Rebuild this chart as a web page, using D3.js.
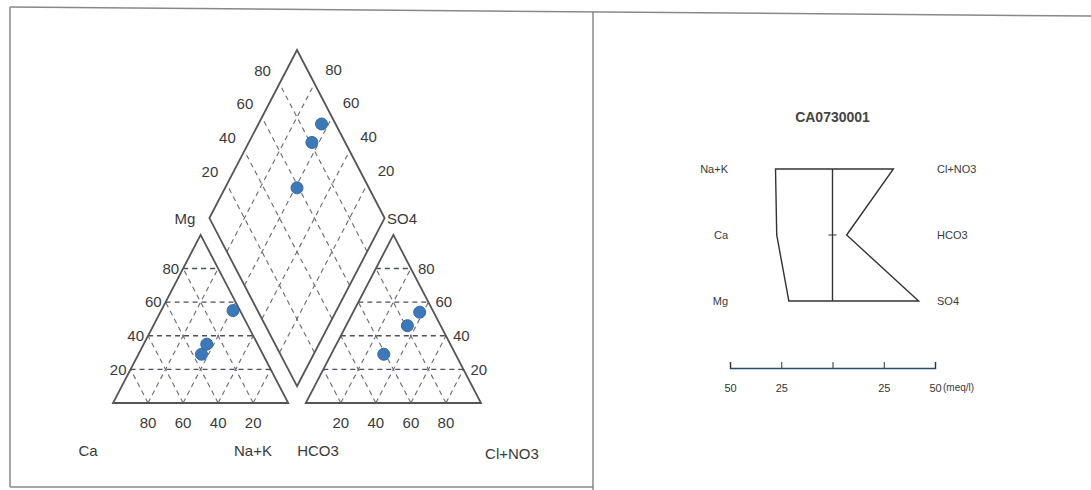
<!DOCTYPE html>
<meta charset="utf-8">
<style>
  body { margin: 0; background: #fff; }
  svg text { font-family: "Liberation Sans", Arial, sans-serif; fill: #3a3a3a; }
  .edge { fill: none; stroke: #555; stroke-width: 1.8; }
  .grid { stroke: #6a6a6a; stroke-width: 1.1; stroke-dasharray: 5,4; }
  .grid.hz { stroke: #4a4f66; stroke-width: 1.4; }
  .dot { fill: #3d78b8; stroke: #2f6aa8; stroke-width: 1; }
  .frame { stroke: #888; stroke-width: 1.5; }
</style>
<body>
<svg width="1091" height="490"></svg>
<script src="https://d3js.org/d3.v7.min.js"></script>
<script>
  // piper samples (percent of meq)
  var ca = [35, 29, 4];
  var mg = [29, 35, 55];
  var naK = [36, 36, 41];
  var hco3 = [8, 19, 41];
  var so4 = [54, 46, 29];
  var clNo3 = [38, 35, 30];
  var ticks = [20, 40, 60, 80];

  // stiff diagram for one sample (meq/l)
  var stiffTitle = "CA0730001";
  var cationNames = ["Na+K", "Ca", "Mg"];
  var anionNames = ["Cl+NO3", "HCO3", "SO4"];
  var cationVals = [27.8, 27.2, 21.3];
  var anionVals = [29.7, 6.9, 42];
  var stiffTicks = [-50, -25, 0, 25, 50];

  var svg = d3.select("svg");

  // panel frames
  svg.append("line").attr("class", "frame").attr("x1", 10).attr("y1", 7).attr("x2", 1091).attr("y2", 16);
  svg.append("line").attr("class", "frame").attr("x1", 10).attr("y1", 7).attr("x2", 10).attr("y2", 487);
  svg.append("line").attr("class", "frame").attr("x1", 10).attr("y1", 487).attr("x2", 593).attr("y2", 487);
  svg.append("line").attr("class", "frame").attr("x1", 593).attr("y1", 12).attr("x2", 593).attr("y2", 490);

  // ---- piper ----
  var h = Math.sqrt(3) / 2;
  var g = 0.1;
  var x = d3.scaleLinear().domain([0, 2 + g]).range([113, 481]);
  var y = d3.scaleLinear().domain([0, (2 + g) * h]).range([403, 50]);
  function P(p) { return [x(p[0]), y(p[1])]; }
  var line = d3.line().x(function(d) { return x(d[0]); }).y(function(d) { return y(d[1]); });

  var piper = svg.append("g");

  function gridLine(a, b, cls) {
    piper.append("path").attr("class", "grid " + (cls || "")).attr("d", line([a, b]));
  }

  // triangles
  [0, 1 + g].forEach(function(o) {
    ticks.forEach(function(t0) {
      var t = t0 / 100;
      gridLine([o + t, 0], [o + t + (1 - t) / 2, (1 - t) * h]);
      gridLine([o + 1 - t, 0], [o + (1 - t) / 2, (1 - t) * h]);
      gridLine([o + t / 2, t * h], [o + 1 - t / 2, t * h], "hz");
    });
    piper.append("path").attr("class", "edge")
      .attr("d", line([[o, 0], [o + 1, 0], [o + 0.5, h]]) + "Z");
  });

  // diamond
  var B = [1 + g / 2, g * h], L = [0.5 + g / 2, h + g * h],
      T = [1 + g / 2, 2 * h + g * h], R = [1.5 + g / 2, h + g * h];
  ticks.forEach(function(t0) {
    var t = t0 / 100;
    var dR = [(R[0] - B[0]) * t, (R[1] - B[1]) * t];
    var dL = [(L[0] - B[0]) * t, (L[1] - B[1]) * t];
    gridLine([B[0] + dR[0], B[1] + dR[1]], [L[0] + dR[0], L[1] + dR[1]]);
    gridLine([B[0] + dL[0], B[1] + dL[1]], [R[0] + dL[0], R[1] + dL[1]]);
  });
  piper.append("path").attr("class", "edge").attr("d", line([B, L, T, R]) + "Z");

  // tick labels
  function label(px, py, txt, anchor, size) {
    piper.append("text").attr("x", px).attr("y", py).attr("dy", "0.35em")
      .attr("text-anchor", anchor || "middle").style("font-size", (size || 15) + "px").text(txt);
  }
  ticks.forEach(function(t0) {
    var t = t0 / 100;
    var p = P([t / 2, t * h]);
    label(p[0] - 4, p[1], t0, "end");
    p = P([2 + g - t / 2, t * h]);
    label(p[0] + 7, p[1], t0, "start");
    label(x(1 - t), 423, t0);
    label(x(1 + g + t), 423, t0);
    p = P([L[0] + (T[0] - L[0]) * t, L[1] + (T[1] - L[1]) * t]);
    label(p[0] - 17, p[1] - 13, t0);
    p = P([R[0] + (T[0] - R[0]) * t, R[1] + (T[1] - R[1]) * t]);
    label(p[0] + 19, p[1] - 14, t0);
  });
  label(185, 219, "Mg");
  label(402, 219, "SO4");
  label(88, 451, "Ca");
  label(253, 451, "Na+K");
  label(318, 451, "HCO3");
  label(512, 454, "Cl+NO3");

  // points
  var pts = [];
  ca.forEach(function(d, i) {
    var C = [naK[i] / 100 + mg[i] / 200, mg[i] / 100 * h];
    var A = [1 + g + clNo3[i] / 100 + so4[i] / 200, so4[i] / 100 * h];
    var a = ((so4[i] - mg[i]) / 100 + 2 * (A[0] - C[0])) / 2;
    var D = [C[0] + a * 0.5, C[1] + a * h];
    pts.push(C, A, D);
  });
  piper.selectAll("circle").data(pts).enter().append("circle")
    .attr("class", "dot").attr("r", 6)
    .attr("cx", function(d) { return x(d[0]); })
    .attr("cy", function(d) { return y(d[1]); });

  // ---- stiff ----
  var sx = d3.scaleLinear().domain([-50, 50]).range([730, 935]);
  var sy = d3.scalePoint().domain(d3.range(3)).range([169, 301]);
  var stiff = svg.append("g");

  stiff.append("text").attr("x", sx(0)).attr("y", 117).attr("dy", "0.35em")
    .attr("text-anchor", "middle").style("font-size", "14px").style("font-weight", "bold")
    .style("fill", "#444").text(stiffTitle);

  var poly = [];
  cationVals.forEach(function(v, i) { poly.push([sx(-v), sy(i)]); });
  anionVals.slice().reverse().forEach(function(v, i) { poly.push([sx(v), sy(2 - i)]); });
  stiff.append("path")
    .attr("d", "M" + poly.join("L") + "Z")
    .style("fill", "none").style("stroke", "#333").style("stroke-width", 1.4);
  stiff.append("line").attr("x1", sx(0)).attr("x2", sx(0)).attr("y1", sy(0)).attr("y2", sy(2))
    .style("stroke", "#333").style("stroke-width", 1.4);
  stiff.append("line").attr("x1", sx(-2)).attr("x2", sx(2)).attr("y1", sy(1)).attr("y2", sy(1))
    .style("stroke", "#333").style("stroke-width", 1);

  cationNames.forEach(function(n, i) {
    stiff.append("text").attr("x", 728).attr("y", sy(i)).attr("dy", "0.35em")
      .attr("text-anchor", "end").style("font-size", "11px").text(n);
  });
  anionNames.forEach(function(n, i) {
    stiff.append("text").attr("x", 937).attr("y", sy(i)).attr("dy", "0.35em")
      .attr("text-anchor", "start").style("font-size", "11px").text(n);
  });

  var axis = stiff.append("g").attr("transform", "translate(0,368)")
    .call(d3.axisBottom(sx).tickValues(stiffTicks).tickSizeOuter(0).tickSize(-6)
      .tickFormat(function(d) { return d === 0 ? "" : Math.abs(d); }));
  axis.select(".domain").style("stroke", "#2a4a6a").style("stroke-width", 1.5);
  axis.selectAll(".tick line").style("stroke", "#333");
  axis.selectAll(".tick text").attr("y", 16).style("font-size", "11px")
    .style("font-family", "Liberation Sans, Arial, sans-serif").style("fill", "#333");
  stiff.append("text").attr("x", sx(50) + 8).attr("y", 384).attr("dy", "0.71em")
    .style("font-size", "10px").text("(meq/l)");
</script>
</body>
